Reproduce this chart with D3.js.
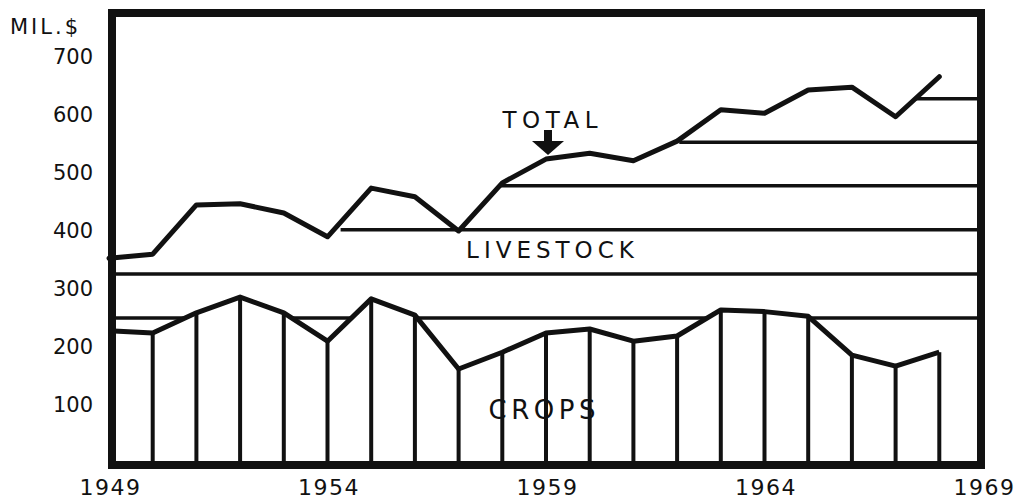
<!DOCTYPE html>
<html>
<head>
<meta charset="utf-8">
<script src="https://cdn.jsdelivr.net/npm/d3@7"></script>
<style>
  body { margin: 0; background: #fff; }
  text { font-family: "DejaVu Sans", sans-serif; fill: #111; }
</style>
</head>
<body>
<div id="chart"></div>
<script>
// Data (million dollars)
const years = [1949, 1950, 1951, 1952, 1953, 1954, 1955, 1956, 1957, 1958,
               1959, 1960, 1961, 1962, 1963, 1964, 1965, 1966, 1967, 1968];
const total = [353, 360, 445, 447, 431, 390, 474, 459, 400, 483,
               524, 534, 521, 555, 609, 603, 643, 648, 597, 666];
const crops = [228, 224, 259, 286, 259, 210, 283, 255, 162, 191,
               224, 231, 210, 219, 264, 261, 253, 186, 167, 191];
// livestock hatching: level of each line and the year it starts from
const hatchLevels = [250, 326, 402, 478, 553, 628];
const hatchStart = [1949, 1949, 1954.3, 1957.95, 1962.05, 1967.45];
const yTicks = [100, 200, 300, 400, 500, 600, 700];
const xTicks = [1949, 1954, 1959, 1964, 1969];

const w = 1026;
const h = 498;

const x = d3.scaleLinear().domain([1949, 1969]).range([109, 983]);
const y = d3.scaleLinear().domain([0, 700]).range([463, 57]);
const yTop = y.invert(13);

const svg = d3.select('#chart')
  .append('svg')
  .attr('width', w)
  .attr('height', h);

const rows = years.map((yr, i) => ({ year: yr, total: total[i], crops: crops[i] }));

// clip for the hatching: everything above the crops line
const clip = svg.append('clipPath').attr('id', 'above-crops');
clip.append('path')
  .attr('d', d3.area()
    .x(d => x(d.year))
    .y0(d => y(d.crops))
    .y1(() => y(yTop))(rows));
clip.append('rect')
  .attr('x', x(1968))
  .attr('y', y(yTop))
  .attr('width', x(1969) - x(1968))
  .attr('height', y(crops[crops.length - 1]) - y(yTop));

// livestock hatch lines
svg.append('g')
  .attr('clip-path', 'url(#above-crops)')
  .selectAll('line')
  .data(hatchLevels)
  .join('line')
    .attr('x1', (d, i) => x(hatchStart[i]))
    .attr('x2', x(1969))
    .attr('y1', d => y(d))
    .attr('y2', d => y(d))
    .attr('stroke', '#111')
    .attr('stroke-width', 3.5);

// crops vertical lines
svg.append('g')
  .selectAll('line')
  .data(rows.slice(1))
  .join('line')
    .attr('x1', d => x(d.year))
    .attr('x2', d => x(d.year))
    .attr('y1', y(0))
    .attr('y2', d => y(d.crops))
    .attr('stroke', '#111')
    .attr('stroke-width', 4);

// crops line
svg.append('path')
  .datum(rows)
  .attr('fill', 'none')
  .attr('stroke', '#111')
  .attr('stroke-width', 5)
  .attr('stroke-linejoin', 'round')
  .attr('d', d3.line().x(d => x(d.year)).y(d => y(d.crops)));

// total line
svg.append('path')
  .datum(rows)
  .attr('fill', 'none')
  .attr('stroke', '#111')
  .attr('stroke-width', 5)
  .attr('stroke-linejoin', 'round')
  .attr('stroke-linecap', 'round')
  .attr('d', d3.line().x(d => x(d.year)).y(d => y(d.total)));

// frame
svg.append('rect')
  .attr('x', 112)
  .attr('y', 13)
  .attr('width', 981 - 112)
  .attr('height', 465 - 13)
  .attr('fill', 'none')
  .attr('stroke', '#111')
  .attr('stroke-width', 8);

// axes
const yAxis = d3.axisLeft(y)
  .tickValues(yTicks)
  .tickSize(0)
  .tickPadding(0);

svg.append('g')
  .classed('y-axis', true)
  .attr('transform', 'translate(93, 0)')
  .call(yAxis);

const xAxis = d3.axisBottom(x)
  .tickValues(xTicks)
  .tickFormat(d3.format('d'))
  .tickSize(0)
  .tickPadding(0);

svg.append('g')
  .classed('x-axis', true)
  .attr('transform', 'translate(0, 478)')
  .call(xAxis);

svg.selectAll('.domain').remove();
svg.selectAll('.tick text')
  .attr('font-size', 21)
  .attr('font-family', '"DejaVu Sans", sans-serif')
  .attr('fill', '#111');
svg.selectAll('.x-axis .tick text')
  .attr('font-size', 22)
  .attr('letter-spacing', 1.5)
  .attr('dx', 1)
  .attr('dy', '0.75em');

// labels
svg.append('text')
  .attr('x', 10)
  .attr('y', 34)
  .attr('font-size', 21)
  .attr('letter-spacing', 3)
  .text('MIL.$');

const label = (txt, cx, cy, size, sp) => svg.append('text')
  .attr('x', cx + sp / 2)
  .attr('y', cy)
  .attr('text-anchor', 'middle')
  .attr('dominant-baseline', 'central')
  .attr('font-size', size)
  .attr('letter-spacing', sp)
  .text(txt);

label('TOTAL', 550, 120, 23, 5.5);
label('LIVESTOCK', 550, 250, 23, 5);
label('CROPS', 542, 410, 26, 4.5);

// arrow pointing at the total line
const ax = x(1959) + 2;
svg.append('rect')
  .attr('x', ax - 4)
  .attr('y', 130)
  .attr('width', 8)
  .attr('height', 12)
  .attr('fill', '#111');
svg.append('path')
  .attr('d', `M${ax - 16},141 L${ax + 16},141 L${ax},${y(524) - 4} Z`)
  .attr('fill', '#111');
</script>
</body>
</html>
